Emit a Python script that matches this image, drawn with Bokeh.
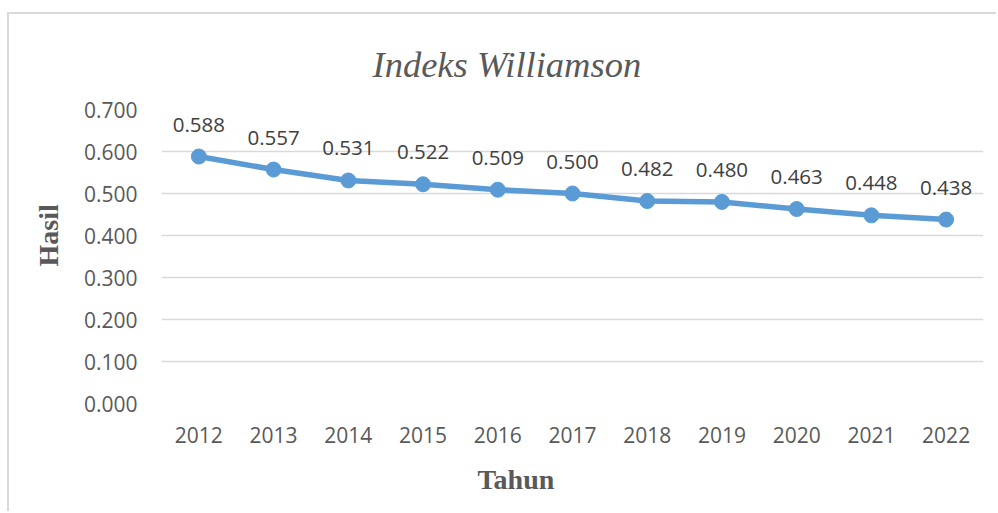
from bokeh.plotting import figure
from bokeh.models import (FactorRange, Range1d, NumeralTickFormatter, FixedTicker,
                          Title, ColumnDataSource)
from bokeh.core.properties import value
from bokeh.embed import file_html
from bokeh.resources import INLINE

years = ["2012", "2013", "2014", "2015", "2016", "2017", "2018", "2019", "2020", "2021", "2022"]
hasil = [0.588, 0.557, 0.531, 0.522, 0.509, 0.500, 0.482, 0.480, 0.463, 0.448, 0.438]
y_ticks = [0.0, 0.1, 0.2, 0.3, 0.4, 0.5, 0.6, 0.7]
title_text = "Indeks Williamson"
x_title = "Tahun"
y_title = "Hasil"

# canvas origin sits at page (9, 14), inside a 2px CSS border
OX, OY = 9, 14
W, H = 998 - OX, 513 - OY
FONT = "Open Sans"
SERIF = "Liberation Serif"
FL, FR, FT, FB = 161, 983, 109, 403  # frame edges in page pixels

p = figure(width=W, height=H, x_range=FactorRange(*years), y_range=Range1d(0, 0.7),
           output_backend="svg", toolbar_location=None,
           min_border_left=FL - OX, min_border_right=OX + W - FR,
           min_border_top=FT - OY, min_border_bottom=OY + H - FB)
p.styles = {"margin-left": "7px", "margin-top": "12px",
            "border-left": "2px solid #d9d9d9", "border-top": "2px solid #d9d9d9"}
p.outline_line_color = None
p.background_fill_color = "white"
p.border_fill_color = "white"

p.xgrid.grid_line_color = None
p.ygrid.grid_line_color = "#d9d9d9"
p.ygrid.grid_line_width = 1.5
p.yaxis.ticker = FixedTicker(ticks=y_ticks)
p.yaxis.formatter = NumeralTickFormatter(format="0.000")

for ax in (p.xaxis, p.yaxis):
    ax.axis_line_color = None
    ax.major_tick_line_color = None
    ax.minor_tick_line_color = None
    ax.major_tick_out = 0
    ax.major_tick_in = 0
    ax.major_label_text_font = FONT
    ax.major_label_text_font_size = "21px"
    ax.major_label_text_color = "#595959"
p.yaxis.major_label_standoff = 24
p.xaxis.major_label_standoff = 23

src = ColumnDataSource(dict(x=years, y=hasil, t=[f"{v:.3f}" for v in hasil]))
p.line("x", "y", source=src, line_color="#5B9BD5", line_width=5.5, line_join="round")
p.scatter("x", "y", source=src, size=15, fill_color="#5B9BD5", line_color="#5B9BD5")
p.text("x", "y", text="t", source=src, text_align="center", text_baseline="alphabetic",
       y_offset=-32, text_font=value(FONT), text_font_size="20.5px", text_color="#404040")

p.add_layout(Title(text=title_text, align="left", offset=211, standoff=50,
                   text_font=SERIF, text_font_style="italic", text_font_size="36.5px",
                   text_color="#595959"), "above")
p.add_layout(Title(text=x_title, align="left", offset=316, standoff=33,
                   text_font=SERIF, text_font_style="bold", text_font_size="28px",
                   text_color="#595959"), "below")
p.add_layout(Title(text=y_title, align="left", offset=137, standoff=33,
                   text_font=SERIF, text_font_style="bold", text_font_size="28px",
                   text_color="#595959"), "left")

open("out.html", "w").write(file_html(p, INLINE))
